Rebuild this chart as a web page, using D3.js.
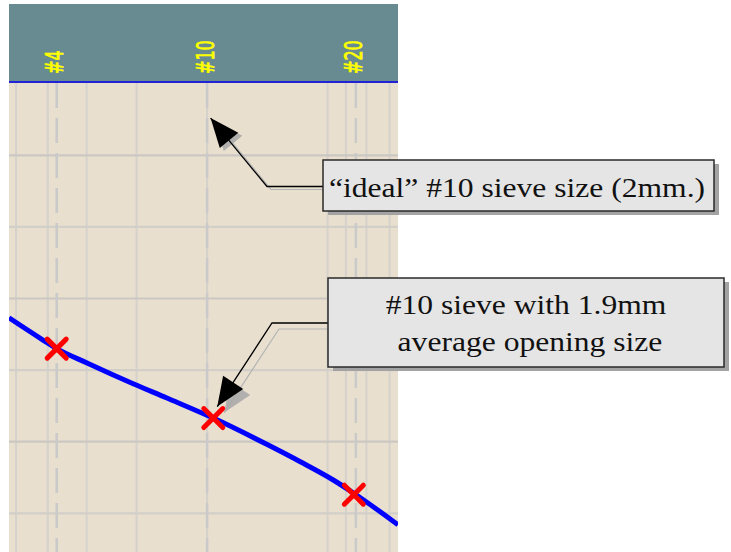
<!DOCTYPE html>
<html>
<head>
<meta charset="utf-8">
<script src="https://cdn.jsdelivr.net/npm/d3@7"></script>
<style>
  body { margin: 0; background: #fff; }
  svg { display: block; }
</style>
</head>
<body>
<div id="chart"></div>
<script>
// grain size (mm) vs percent passing
var curveSize    = [6.25, 5.14, 4.75, 3.99, 3.06, 2.52, 1.93, 1.415, 1.17, 0.968, 0.86, 0.667];
var curvePassing = [67.3, 64.2, 63.0, 61.0, 58.1, 56.1, 53.3, 49.6, 47.2, 44.65, 42.8, 38.4];

// sieves: nominal opening (header + dashed line) and measured point
var sieveNames   = ["#4", "#10", "#20"];
var sieveNominal = [4.75, 2.0, 0.85];
var sieveMeasured = [4.75, 1.93, 0.86];
var sievePassing  = [63.0, 53.3, 42.6];

// grid
var gridSizes   = [6, 5, 4, 3, 2, 1, 0.9, 0.8, 0.7];
var gridPassing = [90, 80, 70, 60, 50, 40];

var notes = [
  "\u201Cideal\u201D #10 sieve size (2mm.)",
  ["#10 sieve with 1.9mm", "average opening size"]
];

var width = 731, height = 552;
var left = 9, right = 398, headTop = 4, plotTop = 83;

var svg = d3.select("#chart").append("svg")
    .attr("width", width)
    .attr("height", height);

var x = d3.scaleLog().domain([6.25, 0.667]).range([left, right]);
var y = d3.scaleLinear().domain([100, 30]).range([83.7, 83.7 + 70 * 7.16]);

svg.append("clipPath").attr("id", "plotclip")
  .append("rect")
    .attr("x", left).attr("y", plotTop)
    .attr("width", right - left).attr("height", height - plotTop);

// header band
svg.append("rect")
    .attr("x", left).attr("y", headTop)
    .attr("width", right - left).attr("height", plotTop - headTop)
    .attr("fill", "#678b90");

// plot background
svg.append("rect")
    .attr("x", left).attr("y", plotTop)
    .attr("width", right - left).attr("height", height - plotTop)
    .attr("fill", "#e8dfcf");

var plot = svg.append("g").attr("clip-path", "url(#plotclip)");

// grid lines
plot.selectAll(".vgrid").data(gridSizes).enter().append("line")
    .attr("class", "vgrid")
    .attr("x1", function(d) { return x(d); })
    .attr("x2", function(d) { return x(d); })
    .attr("y1", plotTop).attr("y2", height)
    .attr("stroke", "#d5d1cb").attr("stroke-width", 2);

plot.selectAll(".hgrid").data(gridPassing).enter().append("line")
    .attr("class", "hgrid")
    .attr("x1", left).attr("x2", right)
    .attr("y1", function(d) { return y(d); })
    .attr("y2", function(d) { return y(d); })
    .attr("stroke", function(d, i) { return i % 2 ? "#d2cec8" : "#cbc7c2"; })
    .attr("stroke-width", 2.2);

// dashed sieve lines
plot.selectAll(".sieve").data(sieveNominal).enter().append("line")
    .attr("class", "sieve")
    .attr("x1", function(d) { return x(d); })
    .attr("x2", function(d) { return x(d); })
    .attr("y1", plotTop).attr("y2", height)
    .attr("stroke", "#cacaca").attr("stroke-width", 2.5)
    .attr("stroke-dasharray", "25,10");

// header separator
svg.append("line")
    .attr("x1", left).attr("x2", right)
    .attr("y1", 82).attr("y2", 82)
    .attr("stroke", "#2323d6").attr("stroke-width", 2);

// header labels
svg.selectAll(".slabel").data(sieveNames).enter().append("text")
    .attr("class", "slabel")
    .attr("transform", function(d, i) {
        return "translate(" + (x(sieveNominal[i]) + 6.5) + ",74) rotate(-90) scale(1,1.5)";
    })
    .attr("font-family", "DejaVu Sans, sans-serif")
    .attr("font-size", 16)
    .attr("fill", "#ffff00")
    .attr("stroke", "#ffff00")
    .attr("stroke-width", 0.5)
    .text(function(d) { return d; });

// gradation curve
var curve = curveSize.map(function(s, i) { return {s: s, p: curvePassing[i]}; });
var line = d3.line()
    .x(function(d) { return x(d.s); })
    .y(function(d) { return y(d.p); })
    .curve(d3.curveMonotoneX);

plot.append("path")
    .datum(curve)
    .attr("d", line)
    .attr("fill", "none")
    .attr("stroke", "#0000ff")
    .attr("stroke-width", 5);

// red X markers
var xm = plot.selectAll(".mark").data(sieveMeasured).enter().append("g")
    .attr("class", "mark")
    .attr("transform", function(d, i) {
        return "translate(" + x(d) + "," + y(sievePassing[i]) + ")";
    });
xm.append("path")
    .attr("d", "M-9.5,-9.5L9.5,9.5M9.5,-9.5L-9.5,9.5")
    .attr("stroke", "#ff0000")
    .attr("stroke-width", 5)
    .attr("stroke-linecap", "round");

// callouts
function arrowHead(tip, from, len, half) {
    var dx = from[0] - tip[0], dy = from[1] - tip[1];
    var d = Math.sqrt(dx * dx + dy * dy);
    var ux = dx / d, uy = dy / d;
    var bx = tip[0] + ux * len, by = tip[1] + uy * len;
    return [tip, [bx - uy * half, by + ux * half], [bx + uy * half, by - ux * half]];
}

function callout(pts, tip, shadowOff) {
    var g = svg.append("g");
    var head = arrowHead(tip, pts[pts.length - 1], 29, 12);
    var sh = function(p) { return [p[0] + shadowOff[0], p[1] + shadowOff[1]]; };
    g.append("path")
        .attr("d", d3.line()(pts.concat([tip]).map(sh)))
        .attr("fill", "none").attr("stroke", "#b4b4b4").attr("stroke-width", 1.2);
    g.append("polygon")
        .attr("points", head.map(sh).map(function(p) { return p.join(","); }).join(" "))
        .attr("fill", "#a8a8a8").attr("opacity", 0.85);
    g.append("path")
        .attr("d", d3.line()(pts.concat([tip])))
        .attr("fill", "none").attr("stroke", "#000").attr("stroke-width", 1.3);
    g.append("polygon")
        .attr("points", head.map(function(p) { return p.join(","); }).join(" "))
        .attr("fill", "#000");
}

function box(bx, by, bw, bh) {
    svg.append("rect")
        .attr("x", bx + 5).attr("y", by + 4)
        .attr("width", bw).attr("height", bh)
        .attr("fill", "#a3a3a3");
    svg.append("rect")
        .attr("x", bx).attr("y", by)
        .attr("width", bw).attr("height", bh)
        .attr("fill", "#e5e5e5")
        .attr("stroke", "#2a2a2a").attr("stroke-width", 1.5);
}

function note(txt, cx, baseline) {
    svg.append("text")
        .attr("transform", "translate(" + cx + "," + baseline + ") scale(1.17,1)")
        .attr("text-anchor", "middle")
        .attr("font-family", "'Liberation Serif', 'Times New Roman', serif")
        .attr("font-size", 27)
        .attr("fill", "#111")
        .text(txt);
}

// note 1: the ideal #10 opening
var tip1 = [x(sieveNominal[1]) + 3.5, y(95.2)];
callout([[323, 186.5], [267, 186.5]], tip1, [4, 3]);
box(323, 160, 391, 51);
note(notes[0], 517, 197);

// note 2: the measured #10 point
var tip2 = [x(sieveMeasured[1]) + 4, y(sievePassing[1]) - 11.5];
callout([[328, 323], [272, 323]], tip2, [7, 6]);
box(328, 278, 396, 89);
note(notes[1][0], 526, 314);
note(notes[1][1], 530, 351);
</script>
</body>
</html>
